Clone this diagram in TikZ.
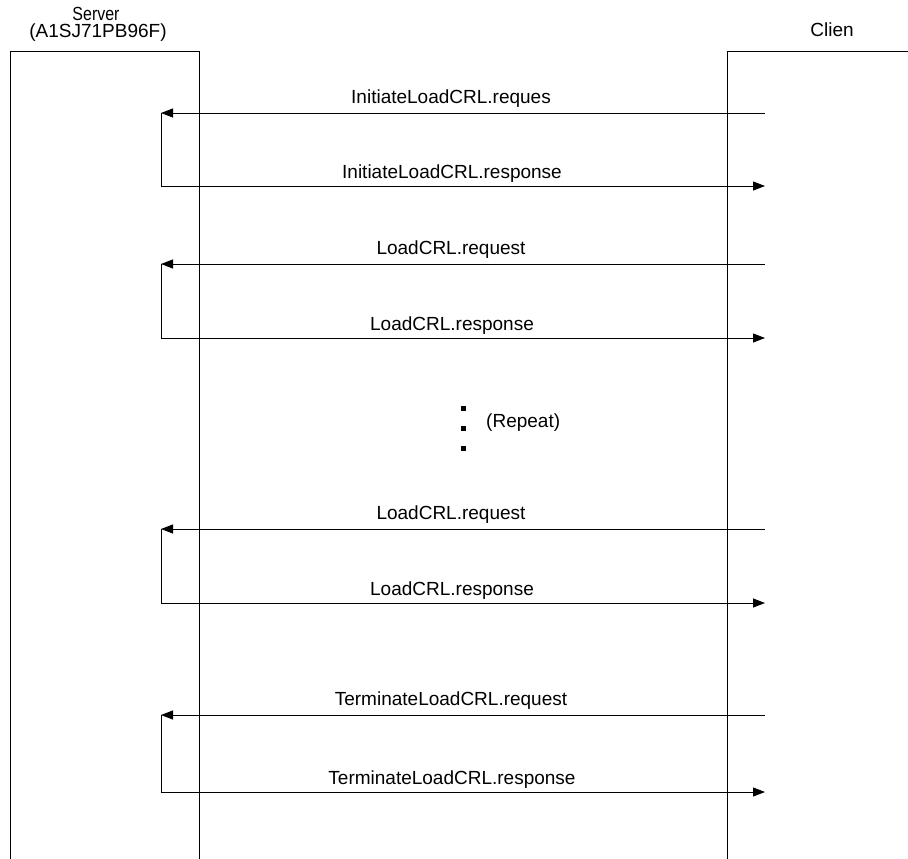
\documentclass[tikz,border=0pt]{standalone}
\usepackage{fontspec}
\setmainfont{Liberation Sans}
\usetikzlibrary{arrows.meta}
\begin{document}
\begin{tikzpicture}[x=1pt,y=-1pt,
  every node/.style={font=\fontsize{19}{22}\selectfont, inner sep=0pt},
  box/.style={line width=1pt},
  msg/.style={line width=1pt, -{Triangle[length=12pt,width=9pt]}},
  loopline/.style={line width=1pt},
  lbl/.style={anchor=base},
  dot/.style={fill=black, minimum size=5pt, inner sep=0pt, draw=none, rectangle}]
\useasboundingbox (0,0) rectangle (908,859);
% lifeline boxes
\draw[box] (10,859) -- (10,52) -- (199,52) -- (199,859);
\draw[box] (727,859) -- (727,52) -- (908,52);
\node (srv1) at (96,14) {\scalebox{0.84}[1]{Server}};
\node (srv2) at (98,33) {(A1SJ71PB96F)};
\node (cli) at (832,30) {Clien};
% message pairs
\foreach \i/\ya/\yb/\ta/\tb in {
  1/113/186/InitiateLoadCRL.reques/InitiateLoadCRL.response,
  2/264/338/LoadCRL.request/LoadCRL.response,
  3/529/603/LoadCRL.request/LoadCRL.response,
  4/715/792/TerminateLoadCRL.request/TerminateLoadCRL.response}{
  \coordinate (cr\i) at (765,\ya);
  \coordinate (sr\i) at (161,\ya);
  \coordinate (ss\i) at (161,\yb);
  \coordinate (cs\i) at (765,\yb);
  \draw[msg] (cr\i) -- (sr\i);
  \draw[loopline] (sr\i) -- (ss\i);
  \draw[msg] (ss\i) -- (cs\i);
  \node[lbl] (req\i) at (451,\ya-10) {\ta};
  \node[lbl] (res\i) at (452,\yb-8) {\tb};
}
% repeat dots
\node[dot] (d1) at (463,408) {};
\node[dot] (d2) at (463,428) {};
\node[dot] (d3) at (463,448) {};
\node[anchor=west] (rep) at (486,423) {(Repeat)};
\end{tikzpicture}
\end{document}
